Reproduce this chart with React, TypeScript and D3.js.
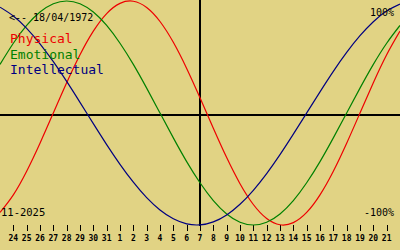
import React from "react";
import * as d3 from "d3";

// day index -1 (23 Oct) .. 29 (22 Nov); tick days 0..28
const dayIndex = d3.range(-1, 30);
const tickLabels = ["24","25","26","27","28","29","30","31","1","2","3","4","5","6","7","8","9","10","11","12","13","14","15","16","17","18","19","20","21"];
const physical = [-0.888,-0.731,-0.52,-0.27,0,0.27,0.52,0.731,0.888,0.979,0.998,0.942,0.817,0.631,0.398,0.136,-0.136,-0.398,-0.631,-0.817,-0.942,-0.998,-0.979,-0.888,-0.731,-0.52,-0.27,0,0.27,0.52,0.731];
const emotional = [0.434,0.623,0.782,0.901,0.975,1,0.975,0.901,0.782,0.623,0.434,0.222,0,-0.222,-0.434,-0.623,-0.782,-0.901,-0.975,-1,-0.975,-0.901,-0.782,-0.623,-0.434,-0.222,0,0.222,0.434,0.623,0.782];
const intellectual = [0.945,0.866,0.756,0.618,0.458,0.282,0.095,-0.095,-0.282,-0.458,-0.618,-0.756,-0.866,-0.945,-0.99,-0.999,-0.972,-0.91,-0.815,-0.69,-0.541,-0.372,-0.189,0,0.189,0.372,0.541,0.69,0.815,0.91,0.972];
const todayIndex = 14;
const birthLabel = "<-- 18/04/1972";
const monthLabel = "11-2025";
const seriesNames = ["Physical", "Emotional", "Intellectual"];
const seriesColors = ["#ee0000", "#008000", "#000080"];

export default function App() {
  const W = 400, H = 250;
  const x = d3.scaleLinear().domain([-1, 29]).range([0, 400]);
  const y = d3.scaleLinear().domain([-1, 1]).range([225, 1]);
  const line = d3
    .line<number>()
    .x((_, i) => x(dayIndex[i]))
    .y((v) => y(v))
    .curve(d3.curveNatural);
  const series = [physical, emotional, intellectual];
  const mono = "'DejaVu Sans Mono', monospace";
  return (
    <svg
      width={W}
      height={H}
      style={{ position: "fixed", left: 0, top: 0, background: "#e1d384" }}
    >
      <rect x={0} y={0} width={W} height={H} fill="#e1d384" />
      {/* axes */}
      <line x1={0} x2={400} y1={115} y2={115} stroke="#000" strokeWidth={2} shapeRendering="crispEdges" />
      <line x1={x(todayIndex)} x2={x(todayIndex)} y1={0} y2={226} stroke="#000" strokeWidth={2} shapeRendering="crispEdges" />
      {/* ticks */}
      {tickLabels.map((t, i) => (
        <g key={i}>
          <line x1={Math.round(x(i)) + 0.5} x2={Math.round(x(i)) + 0.5} y1={225} y2={231} stroke="#000" strokeWidth={1} shapeRendering="crispEdges" />
          <text x={x(i)} y={241} textAnchor="middle" fontFamily={mono} fontWeight="bold" fontSize={8} fill="#000">
            {t}
          </text>
        </g>
      ))}
      {/* curves */}
      {series.map((s, k) => (
        <path key={k} d={line(s) || ""} fill="none" stroke={seriesColors[k]} strokeWidth={1.2} />
      ))}
      {/* texts */}
      <text x={9} y={21} fontFamily={mono} fontSize={10} fill="#000">{birthLabel}</text>
      {seriesNames.map((n, k) => (
        <text key={n} x={10} y={43 + k * 15.5} fontFamily={mono} fontSize={13} fill={seriesColors[k]}>
          {n}
        </text>
      ))}
      <text x={394} y={16} textAnchor="end" fontFamily={mono} fontSize={10} fill="#000">100%</text>
      <text x={394} y={216} textAnchor="end" fontFamily={mono} fontSize={10} fill="#000">-100%</text>
      <text x={1} y={216} fontFamily={mono} fontSize={10.5} fill="#000">{monthLabel}</text>
    </svg>
  );
}
